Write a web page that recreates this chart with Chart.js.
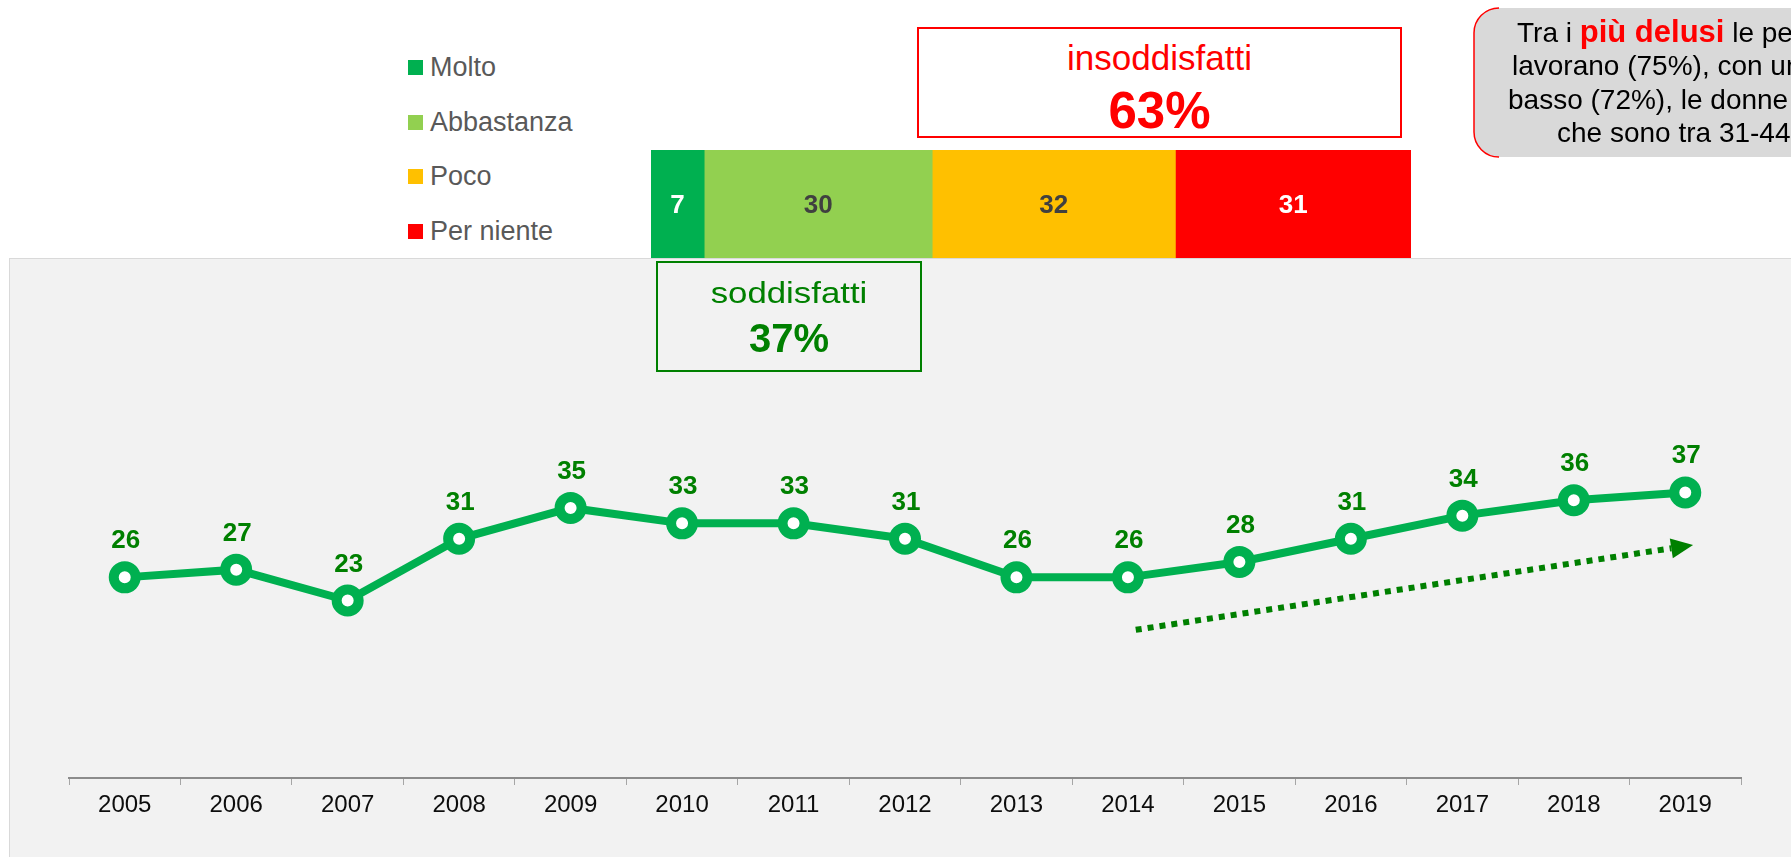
<!DOCTYPE html>
<html lang="it">
<head>
<meta charset="utf-8">
<script src="https://cdn.jsdelivr.net/npm/chart.js@4"></script>
<style>
  html, body { margin:0; padding:0; background:#ffffff; }
  body { width:1791px; height:857px; position:relative; overflow:hidden; font-family:"Liberation Sans", Arial, sans-serif; }
  .abs { position:absolute; }
  .txt { position:absolute; white-space:nowrap; }
</style>
</head>
<body>
<script>
// ---------- DATA ----------
const years = ['2005','2006','2007','2008','2009','2010','2011','2012','2013','2014','2015','2016','2017','2018','2019'];
const soddisfattiTrend = [26, 27, 23, 31, 35, 33, 33, 31, 26, 26, 28, 31, 34, 36, 37];

const levels = ['Molto', 'Abbastanza', 'Poco', 'Per niente'];
const levelValues = [7, 30, 32, 31];
const levelColors = ['#00b050', '#92d050', '#ffc000', '#ff0000'];
const levelLabelColors = ['#ffffff', '#404040', '#404040', '#ffffff'];

const satisfiedTotal = 37;
const unsatisfiedTotal = 63;

// trend arrow anchors (category index, value)
const arrowFrom = { x: 9.07, y: 19.2 };
const arrowTo = { x: 14.07, y: 30.2 };
</script>

<!-- gray panel -->
<div class="abs" style="left:9px; top:258px; width:1790px; height:610px; background:#f2f2f2; border:1px solid #d9d9d9; box-sizing:border-box;"></div>

<canvas id="lineChart" class="abs" style="left:0; top:258px;" width="1791" height="599"></canvas>

<canvas id="barChart" class="abs" style="left:651px; top:150px;" width="760" height="108"></canvas>

<div id="legend"></div>

<!-- insoddisfatti box -->
<div class="abs" style="left:917px; top:27px; width:485px; height:111px; border:2px solid #ff0000; box-sizing:border-box; background:#fff;"></div>
<div class="txt" style="left:917px; width:485px; text-align:center; top:40.4px; font-size:35px; line-height:35px; color:#ff0000;">insoddisfatti</div>
<div class="txt" id="insVal" style="left:917px; width:485px; text-align:center; top:84.8px; font-size:51px; line-height:51px; color:#ff0000; font-weight:bold;"></div>

<!-- soddisfatti box -->
<div class="abs" style="left:656px; top:261px; width:266px; height:111px; border:2px solid #008000; box-sizing:border-box;"></div>
<div class="txt" style="left:656px; width:266px; text-align:center; top:277.6px; font-size:30px; line-height:30px; color:#008000; transform:scaleX(1.16); transform-origin:center;">soddisfatti</div>
<div class="txt" id="sodVal" style="left:656px; width:266px; text-align:center; top:318px; font-size:40px; line-height:40px; color:#008000; font-weight:bold;"></div>

<!-- callout -->
<svg class="abs" style="left:0; top:0;" width="1791" height="857">
  <rect x="1474" y="8" width="420" height="149" rx="25" ry="25" fill="#d9d9d9"/>
  <path d="M1499,8 A25,25 0 0 0 1474,33 L1474,132 A25,25 0 0 0 1499,157" fill="none" stroke="#ff0000" stroke-width="1.5"/>
</svg>
<div class="txt" style="left:1517px; top:18.3px; font-size:28px; line-height:28px; color:#000;">Tra i <span style="color:#ff0000; font-weight:bold; font-size:31px;">più delusi</span> le persone che non</div>
<div class="txt" style="left:1512px; top:52.3px; font-size:28px; line-height:28px; color:#000;">lavorano (75%), con un titolo di studio</div>
<div class="txt" style="left:1508px; top:86.3px; font-size:28px; line-height:28px; color:#000;">basso (72%), le donne e quelli</div>
<div class="txt" style="left:1557px; top:119.3px; font-size:28px; line-height:28px; color:#000;">che sono tra 31-44 anni</div>

<script>
document.getElementById('insVal').textContent = unsatisfiedTotal + '%';
document.getElementById('sodVal').textContent = satisfiedTotal + '%';

// legend
const legendCenters = [67, 122, 176, 231];
const lg = document.getElementById('legend');
levels.forEach((name, i) => {
  const sq = document.createElement('div');
  sq.className = 'abs';
  sq.style.cssText = `left:408px; top:${legendCenters[i]-7.5}px; width:15px; height:15px; background:${levelColors[i]};`;
  lg.appendChild(sq);
  const t = document.createElement('div');
  t.className = 'txt';
  t.style.cssText = `left:430px; top:${legendCenters[i]+9.5-22.9}px; font-size:27px; line-height:27px; color:#595959;`;
  t.textContent = name;
  lg.appendChild(t);
});

Chart.defaults.font.family = '"Liberation Sans", Arial, sans-serif';

// ---------- stacked bar ----------
const barLabelPlugin = {
  id: 'barLabels',
  afterDatasetsDraw(chart) {
    const ctx = chart.ctx;
    ctx.save();
    ctx.font = 'bold 26px "Liberation Sans", Arial, sans-serif';
    ctx.textAlign = 'center';
    ctx.textBaseline = 'middle';
    chart.data.datasets.forEach((ds, i) => {
      const el = chart.getDatasetMeta(i).data[0];
      const cx = (el.x + el.base) / 2;
      ctx.fillStyle = levelLabelColors[i];
      ctx.fillText(String(ds.data[0]), cx, el.y + 2);
    });
    ctx.restore();
  }
};

new Chart(document.getElementById('barChart'), {
  type: 'bar',
  data: {
    labels: [''],
    datasets: levels.map((name, i) => ({
      label: name,
      data: [levelValues[i]],
      backgroundColor: levelColors[i],
      borderWidth: 0,
      barPercentage: 1,
      categoryPercentage: 1
    }))
  },
  options: {
    indexAxis: 'y',
    responsive: false,
    animation: false,
    devicePixelRatio: 1,
    layout: { padding: 0 },
    plugins: { legend: { display: false }, tooltip: { enabled: false } },
    scales: {
      x: { display: false, stacked: true, min: 0, max: 100 },
      y: { display: false, stacked: true }
    }
  },
  plugins: [barLabelPlugin]
});

// ---------- line chart ----------
const pointLabelPlugin = {
  id: 'pointLabels',
  afterDatasetsDraw(chart) {
    const ctx = chart.ctx;
    const meta = chart.getDatasetMeta(0);
    ctx.save();
    ctx.font = 'bold 26px "Liberation Sans", Arial, sans-serif';
    ctx.fillStyle = '#008000';
    ctx.textAlign = 'center';
    ctx.textBaseline = 'alphabetic';
    meta.data.forEach((pt, i) => {
      ctx.fillText(String(chart.data.datasets[0].data[i]), pt.x + 1, pt.y - 29);
    });
    ctx.restore();
  }
};

const arrowPlugin = {
  id: 'trendArrow',
  afterDatasetsDraw(chart) {
    const xs = chart.scales.x, ys = chart.scales.y;
    const x0 = xs.getPixelForValue(arrowFrom.x), y0 = ys.getPixelForValue(arrowFrom.y);
    const x1 = xs.getPixelForValue(arrowTo.x), y1 = ys.getPixelForValue(arrowTo.y);
    const ang = Math.atan2(y1 - y0, x1 - x0);
    const headLen = 22, headHalf = 10;
    const bx = x1 - headLen * Math.cos(ang), by = y1 - headLen * Math.sin(ang);
    const ctx = chart.ctx;
    ctx.save();
    ctx.strokeStyle = '#008000';
    ctx.fillStyle = '#008000';
    ctx.lineWidth = 6;
    ctx.setLineDash([6, 6]);
    ctx.beginPath();
    ctx.moveTo(x0, y0);
    ctx.lineTo(bx, by);
    ctx.stroke();
    ctx.setLineDash([]);
    ctx.beginPath();
    ctx.moveTo(x1, y1);
    ctx.lineTo(bx + headHalf * Math.sin(ang), by - headHalf * Math.cos(ang));
    ctx.lineTo(bx - headHalf * Math.sin(ang), by + headHalf * Math.cos(ang));
    ctx.closePath();
    ctx.fill();
    ctx.restore();
  }
};

new Chart(document.getElementById('lineChart'), {
  type: 'line',
  data: {
    labels: years,
    datasets: [{
      label: 'soddisfatti',
      data: soddisfattiTrend,
      borderColor: '#00b050',
      borderWidth: 8,
      tension: 0,
      pointRadius: 11,
      pointBorderWidth: 10,
      pointBackgroundColor: '#ffffff',
      pointBorderColor: '#00b050',
      fill: false
    }]
  },
  options: {
    responsive: false,
    animation: false,
    devicePixelRatio: 1,
    layout: { padding: { left: 69, right: 50, top: 57, bottom: 0 } },
    plugins: { legend: { display: false }, tooltip: { enabled: false } },
    scales: {
      x: {
        offset: true,
        grid: { display: true, drawOnChartArea: false, drawTicks: true, tickLength: 7, color: '#a6a6a6', lineWidth: 1, offset: true },
        border: { display: true, color: '#8c8c8c', width: 2 },
        ticks: { color: '#0d0d0d', font: { size: 24 }, padding: 6, maxRotation: 0, autoSkip: false },
        afterFit: (s) => { s.height = 79; }
      },
      y: { display: false, min: 0, max: 60 }
    }
  },
  plugins: [arrowPlugin, pointLabelPlugin]
});
</script>
</body>
</html>
